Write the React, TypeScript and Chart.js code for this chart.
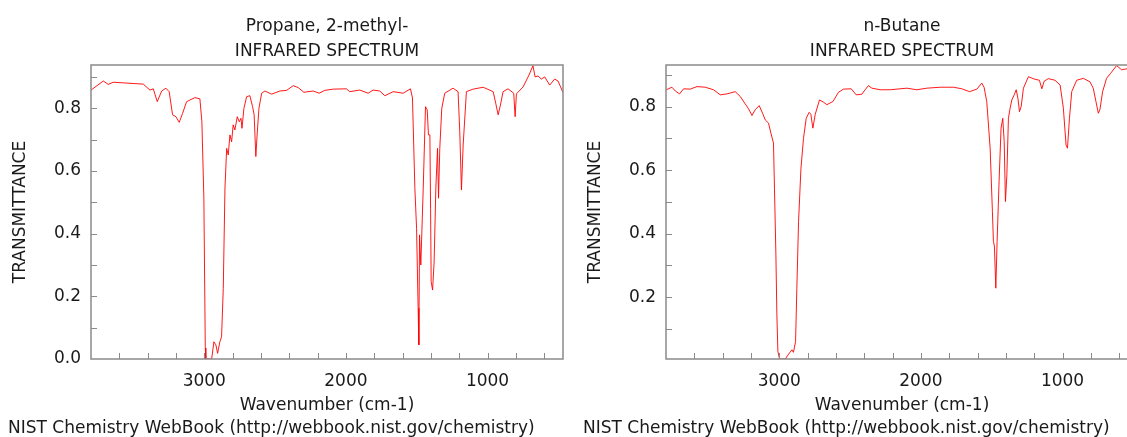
import React, { useEffect, useRef } from "react";
import { Chart, registerables } from "chart.js";

Chart.register(...registerables);

// ---- Data (wavenumber cm-1, transmittance) ----
const ISOBUTANE_WN = [
  3800, 3713, 3678, 3643, 3431, 3384, 3360, 3332, 3301, 3271, 3248, 3224, 3200, 3177, 3153, 3125,
  3066, 3031, 3017, 3003, 2993, 2989, 2948, 2932, 2918, 2906, 2890, 2878, 2866, 2854, 2842, 2831,
  2819, 2807, 2796, 2784, 2767, 2753, 2741, 2734, 2720, 2701, 2678, 2659, 2648, 2636, 2627, 2614,
  2595, 2572, 2525, 2466, 2419, 2372, 2337, 2297, 2231, 2189, 2149, 2090, 1996, 1973, 1902, 1843,
  1808, 1761, 1725, 1666, 1596, 1544, 1530, 1513, 1501, 1490, 1485, 1480, 1471, 1454, 1438, 1426,
  1417, 1407, 1402, 1398, 1388, 1377, 1365, 1353, 1346, 1337, 1323, 1302, 1243, 1208, 1196, 1184,
  1172, 1149, 1102, 1031, 960, 942, 925, 909, 890, 855, 815, 805, 796, 749, 707, 679, 664, 643, 620,
  596, 561, 526, 502, 467,
];
const ISOBUTANE_T = [
  0.858, 0.887, 0.876, 0.883, 0.877, 0.858, 0.862, 0.821, 0.855, 0.864, 0.853, 0.779, 0.773, 0.755, 0.784, 0.821,
  0.834, 0.83, 0.757, 0.513, 0.035, 0.0, 0.0, 0.055, 0.045, 0.018, 0.055, 0.071, 0.225, 0.545, 0.672, 0.651,
  0.715, 0.693, 0.747, 0.731, 0.773, 0.757, 0.768, 0.736, 0.8, 0.837, 0.84, 0.805, 0.779, 0.646, 0.715, 0.8,
  0.848, 0.855, 0.845, 0.855, 0.857, 0.872, 0.866, 0.851, 0.855, 0.848, 0.857, 0.861, 0.862, 0.853, 0.858, 0.848,
  0.858, 0.855, 0.84, 0.853, 0.848, 0.862, 0.833, 0.545, 0.417, 0.162, 0.045, 0.396, 0.3, 0.545, 0.805, 0.795,
  0.715, 0.715, 0.481, 0.247, 0.22, 0.31, 0.545, 0.672, 0.513, 0.672, 0.8, 0.848, 0.864, 0.853, 0.726, 0.539,
  0.683, 0.853, 0.861, 0.867, 0.853, 0.816, 0.779, 0.81, 0.853, 0.862, 0.848, 0.773, 0.846, 0.868, 0.906, 0.936, 0.9, 0.903, 0.893,
  0.9, 0.874, 0.893, 0.887, 0.85,
];

const BUTANE_WN = [
  3798, 3758, 3734, 3704, 3676, 3629, 3581, 3523, 3464, 3417, 3370, 3311, 3276, 3240, 3217, 3193,
  3170, 3142, 3118, 3099, 3076, 3059, 3041, 3034, 3024, 3017, 3010, 2998, 2958, 2928, 2911, 2900,
  2885, 2876, 2864, 2847, 2829, 2810, 2789, 2777, 2763, 2746, 2716, 2688, 2664, 2621, 2582, 2547,
  2492, 2457, 2417, 2394, 2371, 2346, 2288, 2217, 2099, 2029, 1958, 1864, 1770, 1711, 1657, 1605,
  1570, 1554, 1535, 1511, 1495, 1488, 1481, 1471, 1462, 1448, 1434, 1422, 1412, 1403, 1393, 1382,
  1370, 1358, 1341, 1327, 1315, 1304, 1292, 1276, 1241, 1194, 1163, 1146, 1130, 1100, 1053, 1017,
  994, 975, 965, 951, 935, 900, 853, 806, 783, 764, 747, 736, 717, 689, 660, 618, 583, 545, 500, 467,
];
const BUTANE_T = [
  0.853, 0.861, 0.849, 0.84, 0.856, 0.855, 0.863, 0.861, 0.853, 0.837, 0.84, 0.847, 0.832, 0.808, 0.793, 0.772,
  0.79, 0.803, 0.779, 0.758, 0.748, 0.716, 0.685, 0.543, 0.333, 0.144, 0.029, 0.005, 0.005, 0.024, 0.034, 0.026,
  0.06, 0.228, 0.438, 0.606, 0.7, 0.763, 0.782, 0.776, 0.732, 0.776, 0.821, 0.814, 0.806, 0.816, 0.845, 0.855,
  0.856, 0.837, 0.839, 0.853, 0.866, 0.858, 0.853, 0.853, 0.858, 0.853, 0.858, 0.861, 0.861, 0.856, 0.847, 0.855,
  0.874, 0.861, 0.816, 0.669, 0.469, 0.375, 0.361, 0.228, 0.375, 0.564, 0.732, 0.763, 0.69, 0.501, 0.585, 0.763,
  0.795, 0.821, 0.837, 0.853, 0.826, 0.784, 0.8, 0.858, 0.894, 0.886, 0.883, 0.856, 0.88, 0.888, 0.883, 0.868,
  0.795, 0.679, 0.669, 0.763, 0.847, 0.883, 0.889, 0.878, 0.858, 0.816, 0.779, 0.79, 0.847, 0.889, 0.905, 0.929, 0.916, 0.919, 0.91, 0.9,
];

const X_MIN = 467;
const X_MAX = 3800;
const X_MAJOR = [3000, 2000, 1000];
const X_MINOR = [3600, 3400, 3200, 2800, 2600, 2400, 2200, 1800, 1600, 1400, 1200, 800, 600];
const LEFT_Y_RANGE = [0, 0.938];
const RIGHT_Y_RANGE = [0.005, 0.931];
const LEFT_Y_MAJOR = [0, 0.2, 0.4, 0.6, 0.8];
const RIGHT_Y_MAJOR = [0.2, 0.4, 0.6, 0.8];
const Y_MINOR = [0.1, 0.3, 0.5, 0.7, 0.9];

const LEFT_TITLE = ["Propane, 2-methyl-", "INFRARED SPECTRUM"];
const RIGHT_TITLE = ["n-Butane", "INFRARED SPECTRUM"];
const FOOTER = "NIST Chemistry WebBook (http://webbook.nist.gov/chemistry)";
const X_TITLE = "Wavenumber (cm-1)";
const Y_TITLE = "TRANSMITTANCE";

const FONT = "'DejaVu Sans', sans-serif";
const FS = 17;
const TEXT = "#1a1a1a";
const FRAME = "#8a8a8a";
const CW = 575;
const CH = 437;

const framePlugin = {
  id: "frame",
  afterDatasetsDraw(chart: any, _args: any, opts: any) {
    const { ctx, chartArea: a, scales } = chart;
    const xs = scales.x;
    const ys = scales.y;
    ctx.save();
    ctx.strokeStyle = FRAME;
    ctx.lineWidth = 1;
    ctx.beginPath();
    for (const v of [...X_MAJOR, ...X_MINOR]) {
      const px = Math.round(xs.getPixelForValue(v)) + 0.5;
      if (px < a.left || px > a.right) continue;
      ctx.moveTo(px, a.bottom);
      ctx.lineTo(px, a.bottom - 6);
    }
    for (const v of [...opts.yMajor, ...Y_MINOR]) {
      const py = Math.round(ys.getPixelForValue(v)) + 0.5;
      if (py < a.top || py > a.bottom) continue;
      ctx.moveTo(a.left, py);
      ctx.lineTo(a.left + 6, py);
    }
    ctx.stroke();
    ctx.lineWidth = 1.5;
    ctx.strokeRect(a.left, a.top, a.right - a.left, a.bottom - a.top);
    ctx.restore();
  },
  afterDraw(chart: any, _args: any, opts: any) {
    const { ctx, chartArea: a } = chart;
    ctx.save();
    ctx.fillStyle = TEXT;
    ctx.font = `${FS}px ${FONT}`;
    ctx.textBaseline = "middle";
    ctx.textAlign = "center";
    const cx = (a.left + a.right) / 2;
    ctx.fillText(opts.title[0], cx, 26.5);
    ctx.fillText(opts.title[1], cx, 51.5);
    ctx.textAlign = "left";
    ctx.fillText(opts.footer, 8, 428.5);
    ctx.restore();
  },
};

function Spectrum(props: { wn: number[]; t: number[]; yRange: number[]; yMajor: number[]; title: string[]; left: number }) {
  const ref = useRef<HTMLCanvasElement | null>(null);
  useEffect(() => {
    if (!ref.current) return;
    const data = props.wn.map((x, i) => ({ x, y: props.t[i] }));
    const chart = new Chart(ref.current, {
      type: "line",
      data: {
        datasets: [
          {
            data,
            borderColor: "rgba(255,0,0,0.9)",
            borderWidth: 1,
            pointRadius: 0,
            tension: 0,
            fill: false,
          },
        ],
      },
      options: {
        responsive: false,
        animation: false,
        devicePixelRatio: 1,
        layout: { padding: { top: 65, right: 12, bottom: 21, left: 0 } },
        plugins: {
          legend: { display: false },
          tooltip: { enabled: false },
          frame: { title: props.title, footer: FOOTER, yMajor: props.yMajor },
        } as any,
        scales: {
          x: {
            type: "linear",
            reverse: true,
            min: X_MIN,
            max: X_MAX,
            grid: { display: false, drawTicks: false },
            border: { display: false },
            afterFit: (s: any) => {
              s.height = 57;
            },
            afterBuildTicks: (s: any) => {
              s.ticks = X_MAJOR.map((v) => ({ value: v }));
            },
            ticks: {
              padding: 12,
              color: TEXT,
              font: { family: FONT, size: FS },
              maxRotation: 0,
              autoSkip: false,
              callback: (v: any) => String(v),
            },
            title: {
              display: true,
              text: X_TITLE,
              color: TEXT,
              font: { family: FONT, size: FS },
              padding: { top: 0, bottom: 0 },
            },
          },
          y: {
            type: "linear",
            min: props.yRange[0],
            max: props.yRange[1],
            grid: { display: false, drawTicks: false },
            border: { display: false },
            afterFit: (s: any) => {
              s.width = 91;
            },
            afterBuildTicks: (s: any) => {
              s.ticks = props.yMajor.map((v) => ({ value: v }));
            },
            ticks: {
              padding: 10,
              color: TEXT,
              font: { family: FONT, size: FS },
              autoSkip: false,
              callback: (v: any) => Number(v).toFixed(1),
            },
            title: {
              display: true,
              text: Y_TITLE,
              color: TEXT,
              font: { family: FONT, size: FS },
              padding: { top: 10, bottom: 0 },
            },
          },
        },
      },
      plugins: [framePlugin as any],
    });
    return () => chart.destroy();
  }, []);
  return (
    <canvas
      ref={ref}
      width={CW}
      height={CH}
      style={{ position: "absolute", left: props.left, top: 0, width: CW, height: CH }}
    />
  );
}

export default function App() {
  return (
    <div
      style={{
        position: "fixed",
        left: 0,
        top: 0,
        width: 1127,
        height: 437,
        overflow: "hidden",
        background: "#ffffff",
      }}
    >
      <Spectrum wn={ISOBUTANE_WN} t={ISOBUTANE_T} yRange={LEFT_Y_RANGE} yMajor={LEFT_Y_MAJOR} title={LEFT_TITLE} left={0} />
      <Spectrum wn={BUTANE_WN} t={BUTANE_T} yRange={RIGHT_Y_RANGE} yMajor={RIGHT_Y_MAJOR} title={RIGHT_TITLE} left={575} />
    </div>
  );
}
